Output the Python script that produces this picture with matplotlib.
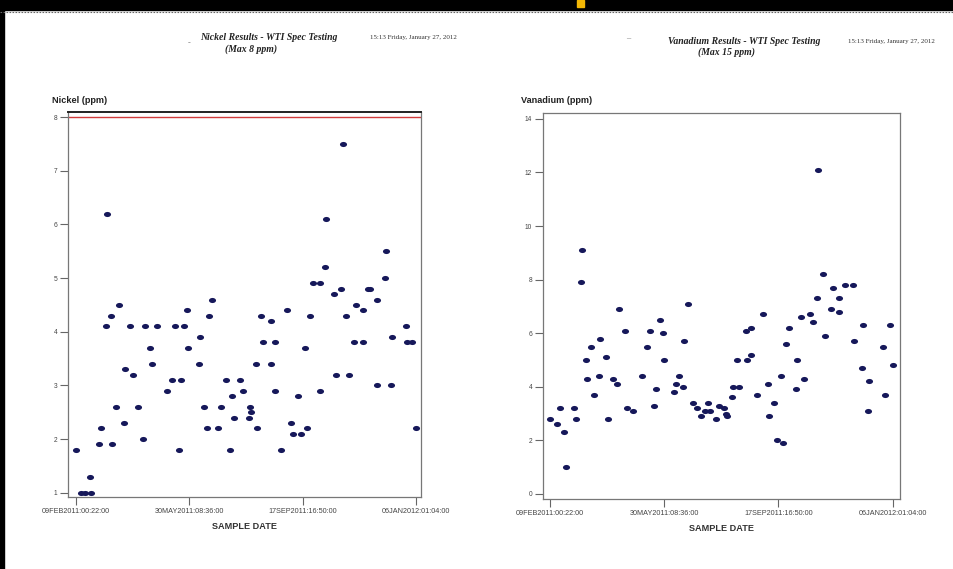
import matplotlib
matplotlib.use("Agg")
import matplotlib.pyplot as plt
import numpy as np
import pandas as pd
from matplotlib.path import Path
from matplotlib.transforms import Affine2D
from matplotlib.patches import Rectangle
from matplotlib.lines import Line2D

# sample times, days after the first sample (09FEB2011 00:22)
ni_days = [0, 5.5, 8.8, 14.9, 13.6, 22.4, 24.4, 29.9, 30.5, 34.4, 35.4, 39.6, 41.9,
           47.1, 48.1, 53.2, 55.8, 60.7, 65.3, 67.2, 72.1, 74.0, 79.2, 88.6, 93.5,
           96.8, 100.3, 102.6, 105.8, 108.4, 109.7, 119.5, 121.1, 124.4, 128.2,
           129.5, 132.8, 138.3, 141.2, 146.1, 150.3, 151.9, 153.6, 160.1, 162.7,
           169.2, 170.5, 168.5, 175.6, 176.3, 180.5, 182.1, 189.6, 189.6, 193.8,
           194.2, 199.7, 205.8, 209.7, 211.0, 216.2, 218.8, 222.7, 225.0, 228.2,
           230.5, 237.3, 237.3, 242.2, 243.8, 251.0, 253.2, 258.4, 259.7, 263.3,
           265.6, 270.5, 273.1, 279.2, 279.2, 284.7, 286.7, 292.9, 292.9, 301.0,
           301.9, 306.8, 307.8, 321.1, 322.4, 327.6, 331.2]
ni_ppm = [1.8, 1.0, 1.0, 1.0, 1.3, 1.9, 2.2, 4.1, 6.2, 4.3, 1.9, 2.6, 4.5,
          2.3, 3.3, 4.1, 3.2, 2.6, 2.0, 4.1, 3.7, 3.4, 4.1, 2.9, 3.1,
          4.1, 1.8, 3.1, 4.1, 4.4, 3.7, 3.4, 3.9, 2.6, 2.2,
          4.3, 4.6, 2.2, 2.6, 3.1, 1.8, 2.8, 2.4, 3.1, 2.9,
          2.6, 2.5, 2.4, 3.4, 2.2, 4.3, 3.8, 4.2, 3.4, 3.8,
          2.9, 1.8, 4.4, 2.3, 2.1, 2.8, 2.1, 3.7, 2.2, 4.3,
          4.9, 4.9, 2.9, 5.2, 6.1, 4.7, 3.2, 4.8, 7.5, 4.3,
          3.2, 3.8, 4.5, 3.8, 4.4, 4.8, 4.8, 4.6, 3.0, 5.0,
          5.5, 3.0, 3.9, 4.1, 3.8, 3.8, 2.2]

v_days = [0, 6.4, 9.3, 13.8, 15.7, 22.8, 25.4, 29.9, 30.8, 35.0, 35.7, 39.8, 42.7,
          47.2, 48.2, 53.7, 56.2, 61.1, 64.9, 67.2, 72.3, 74.2, 80.0, 88.7, 93.8,
          97.0, 100.3, 102.5, 106.4, 108.9, 109.9, 119.5, 121.5, 124.7, 128.2,
          129.5, 133.4, 138.5, 141.7, 146.2, 150.1, 152.6, 154.6, 160.3, 163.6,
          168.4, 169.7, 171.3, 176.1, 176.4, 181.2, 182.8, 189.9, 190.2, 194.7,
          194.7, 200.2, 205.7, 210.2, 211.4, 216.9, 219.5, 223.0, 225.6, 228.5,
          230.7, 237.8, 238.4, 242.6, 245.2, 251.6, 253.9, 258.4, 259.3, 263.5,
          266.1, 271.2, 273.8, 279.6, 279.6, 285.3, 293.1, 293.4, 301.4, 302.1,
          307.2, 308.2, 321.3, 323.3, 328.1, 331.0]
v_ppm = [2.8, 2.6, 3.2, 2.3, 1.0, 3.2, 2.8, 7.9, 9.1, 5.0, 4.3, 5.5, 3.7,
         4.4, 5.8, 5.1, 2.8, 4.3, 4.1, 6.9, 6.1, 3.2, 3.1, 4.4, 5.5,
         6.1, 3.3, 3.9, 6.5, 6.0, 5.0, 3.8, 4.1, 4.4, 4.0,
         5.7, 7.1, 3.4, 3.2, 2.9, 3.1, 3.4, 3.1, 2.8, 3.3,
         3.2, 3.0, 2.9, 3.6, 4.0, 5.0, 4.0, 6.1, 5.0, 5.2,
         6.2, 3.7, 6.7, 4.1, 2.9, 3.4, 2.0, 4.4, 1.9, 5.6,
         6.2, 3.9, 5.0, 6.6, 4.3, 6.7, 6.4, 7.3, 12.1, 8.2,
         5.9, 6.9, 7.7, 7.3, 6.8, 7.8, 7.8, 5.7, 4.7, 6.3,
         3.1, 4.2, 5.5, 3.7, 6.3, 4.8]

x_tick_labels = ['09FEB2011:00:22:00', '30MAY2011:08:36:00',
                 '17SEP2011:16:50:00', '06JAN2012:01:04:00']
ni_yticks = [1, 2, 3, 4, 5, 6, 7, 8]
v_yticks = [0, 2, 4, 6, 8, 10, 12, 14]
ni_limit = 8

start = pd.Timestamp('2011-02-09 00:22')
tick_dates = pd.to_datetime(x_tick_labels, format='%d%b%Y:%H:%M:%S')

W, H = 954, 569
fig = plt.figure(figsize=(W / 100, H / 100), dpi=100)
fig.patch.set_facecolor('white')

def px_axes(x0, y0, x1, y1):
    return fig.add_axes([x0 / W, 1 - y1 / H, (x1 - x0) / W, (y1 - y0) / H])

def ftxt(x, y, s, **kw):
    fig.text(x / W, 1 - y / H, s, **kw)

# flattened dot, like the scanned markers
ell = Path.unit_circle().transformed(Affine2D().scale(1, 0.72))
dot = '#16185a'
sans = 'Liberation Sans'
serif = 'Liberation Serif'

def style(ax, days_lim, ylim, yticks):
    ax.set_xlim(start + pd.to_timedelta(days_lim[0], unit='D'),
                start + pd.to_timedelta(days_lim[1], unit='D'))
    ax.set_ylim(*ylim)
    ax.set_yticks(yticks)
    ax.set_yticklabels([str(t) for t in yticks], fontsize=4.8, color='#444444', family=sans)
    ax.set_xticks(tick_dates)
    ax.set_xticklabels(x_tick_labels, fontsize=5.2, color='#444444', family=sans)
    ax.tick_params(axis='both', length=6, width=0.8, color='#666666', pad=2)
    for s in ax.spines.values():
        s.set_color('#777777')
        s.set_linewidth(0.9)
    ax.set_xlabel('SAMPLE DATE', fontsize=6.6, fontweight='bold', family=sans,
                  color='#333333', labelpad=5)

# Nickel
ax1 = px_axes(68.3, 112.3, 421, 497)
ax1.scatter(start + pd.to_timedelta(ni_days, unit='D'), ni_ppm, marker=ell, s=26,
            color=dot, linewidths=0, zorder=3)
ax1.axhline(ni_limit, color='#d23c3c', lw=1.0, zorder=2)
style(ax1, (-7.2, 335.9), (0.92, 8.09), ni_yticks)
ax1.spines['top'].set_color('#222222')
ax1.spines['top'].set_linewidth(1.4)

# Vanadium
ax2 = px_axes(543.3, 113.5, 900, 499.3)
ax2.scatter(start + pd.to_timedelta(v_days, unit='D'), v_ppm, marker=ell, s=26,
            color=dot, linewidths=0, zorder=3)
style(ax2, (-6.4, 338.2), (-0.2, 14.2), v_yticks)

# axis titles
ftxt(52, 100, 'Nickel (ppm)', fontsize=6.6, fontweight='bold', family=sans,
     color='#222222', va='center')
ftxt(521, 100, 'Vanadium (ppm)', fontsize=6.6, fontweight='bold', family=sans,
     color='#222222', va='center')

# report headers
hdr = dict(family=serif, fontweight='bold', fontstyle='italic', fontsize=7,
           color='#222222', va='center')
ftxt(200, 38, 'Nickel Results - WTI Spec Testing', **hdr)
ftxt(225, 49, '(Max 8 ppm)', **hdr)
ftxt(668, 42, 'Vanadium Results - WTI Spec Testing', **hdr)
ftxt(698, 52, '(Max 15 ppm)', **hdr)
stamp = dict(family=serif, fontsize=5.0, color='#333333', va='center')
ftxt(370, 38, '15:13 Friday, January 27, 2012', **stamp)
ftxt(848, 42, '15:13 Friday, January 27, 2012', **stamp)
ftxt(188, 43, '-', family=serif, fontsize=6, color='#777777', va='center')
ftxt(626, 38, '–', family=serif, fontsize=6, color='#777777', va='center')

# screen frame: black band on top, dotted rule, black left edge, yellow tab
fig.add_artist(Rectangle((0, 1 - 10 / H), 1, 10 / H, transform=fig.transFigure,
                         color='black', zorder=5))
fig.add_artist(Rectangle((0, 0), 4 / W, 1, transform=fig.transFigure,
                         color='black', zorder=5))
fig.add_artist(Rectangle((577 / W, 1 - 7 / H), 7 / W, 7 / H, transform=fig.transFigure,
                         color='#f2b705', zorder=6))
fig.add_artist(Line2D([0, 1], [1 - 12 / H, 1 - 12 / H], transform=fig.transFigure,
                      color='#666666', lw=0.8, ls=(0, (1.5, 1.2)), zorder=5))

fig.savefig('out.png', dpi=100)
